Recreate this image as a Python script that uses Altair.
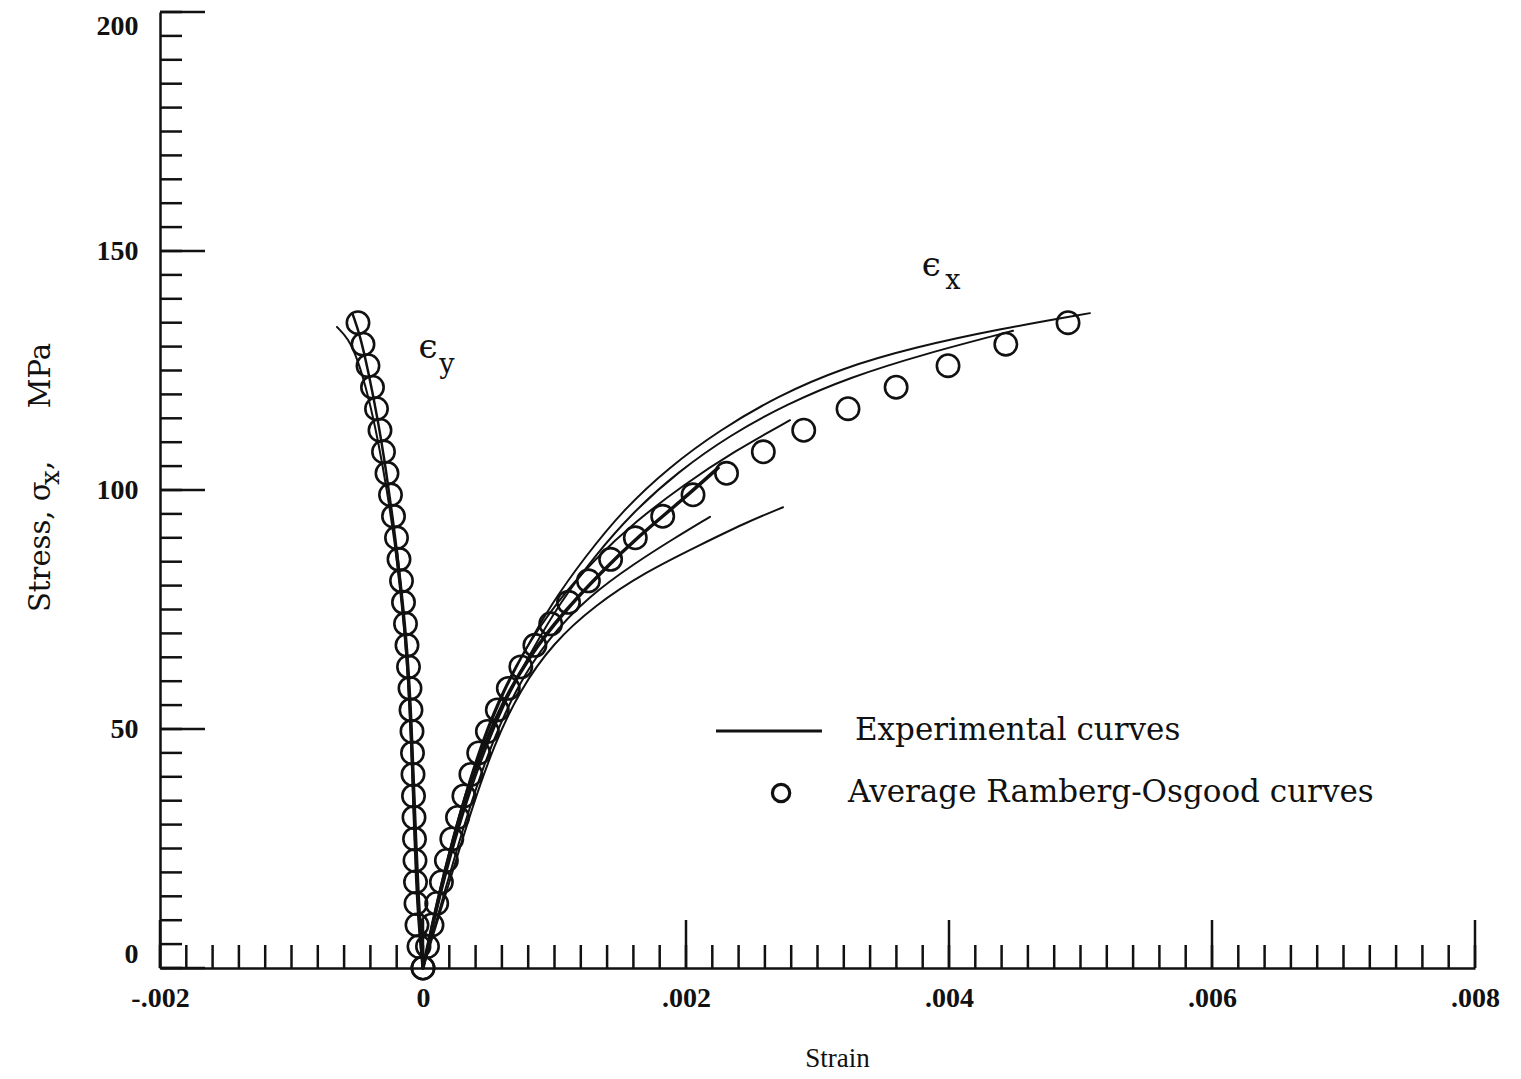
import altair as alt
import pandas as pd

# ---------------- data (strain, stress MPa) ----------------
# Average Ramberg-Osgood curves (circles)
RO_STRESS = [0, 4.5, 9, 13.5, 18, 22.5, 27, 31.5, 36, 40.5, 45, 49.5, 54, 58.5, 63, 67.5,
             72, 76.5, 81, 85.5, 90, 94.5, 99, 103.5, 108, 112.5, 117, 121.5, 126, 130.5, 135]
RO_EX = [0, 0.0000342, 0.0000684, 0.0001042, 0.0001399, 0.000178, 0.000219, 0.0002624,
         0.000311, 0.0003643, 0.0004236, 0.0004898, 0.000565, 0.0006487, 0.0007438, 0.000851,
         0.0009711, 0.0011065, 0.0012579, 0.0014267, 0.0016145, 0.0018229, 0.0020534,
         0.0023081, 0.002588, 0.0028952, 0.0032321, 0.0035979, 0.0039926, 0.0044322, 0.0049052]
RO_EY = [0, -0.0000304, -0.0000456, -0.0000532, -0.000057, -0.0000608, -0.0000646, -0.0000684,
         -0.0000722, -0.000076, -0.0000799, -0.0000837, -0.0000913, -0.0000989, -0.0001103,
         -0.0001217, -0.0001331, -0.0001483, -0.0001635, -0.0001825, -0.0002015, -0.0002243,
         -0.0002472, -0.0002738, -0.0003004, -0.000327, -0.0003536, -0.0003841, -0.0004183,
         -0.0004563, -0.0004943]

# Experimental curves, epsilon_x
EX1_STRAIN = [0, 0.0001065, 0.0002205, 0.0003422, 0.0004715, 0.0006084, 0.0007757, 0.000981,
              0.001232, 0.001521, 0.001863, 0.002259, 0.0027, 0.003186, 0.003742, 0.004388, 0.005072]
EX1_STRESS = [0, 14.2, 26.8, 38.3, 48.3, 57.5, 66.5, 76.4, 86.0, 95.8, 104.6, 112.6, 119.7,
              125.5, 129.9, 133.7, 137.0]
EX2_STRAIN = [0, 0.0001217, 0.0002434, 0.0003726, 0.0005095, 0.000654, 0.0008289, 0.001042,
              0.0013, 0.001597, 0.001939, 0.002335, 0.002768, 0.003247, 0.003818, 0.004487]
EX2_STRESS = [0, 14.2, 26.8, 38.3, 48.3, 57.5, 66.5, 76.4, 86.0, 95.4, 103.8, 111.5, 118.0,
              123.6, 128.5, 133.3]
EX3_STRAIN = [0, 0.0001293, 0.0002586, 0.0004031, 0.0005704, 0.0007681, 0.0010115, 0.0013005,
              0.0016199, 0.0019773, 0.0023728, 0.002791]
EX3_STRESS = [0, 16.3, 30.5, 43.9, 56.1, 66.5, 76.4, 85.4, 93.5, 101.0, 108.2, 114.6]
EX4_STRAIN = [0, 0.0001293, 0.0002662, 0.0004183, 0.0006008, 0.0008137, 0.0010647, 0.0013461,
              0.0016503, 0.0019545, 0.0022435]
EX4_STRESS = [0, 16.3, 30.5, 43.5, 55.4, 65.5, 74.3, 82.6, 90.6, 97.5, 104.6]
EX5_STRAIN = [0, 0.0001673, 0.0003346, 0.0005019, 0.0006997, 0.0009506, 0.00127, 0.0016123,
              0.0019165, 0.0021826]
EX5_STRESS = [0, 16.3, 32.0, 45.6, 58.2, 69.0, 78.0, 84.7, 90.0, 94.4]
EX6_STRAIN = [0, 0.0002053, 0.0003726, 0.00054, 0.0007377, 0.0009887, 0.001308, 0.0016883,
              0.0021066, 0.0024488, 0.0027378]
EX6_STRESS = [0, 18.4, 33.5, 46.7, 58.2, 68.0, 75.9, 82.8, 88.5, 93.1, 96.4]

# Experimental curves, epsilon_y
EY1_STRAIN = [0, -0.0000304, -0.0000532, -0.0000684, -0.0000837, -0.0000989, -0.0001217,
              -0.0001521, -0.0001901, -0.0002282, -0.0002814, -0.0003422, -0.0004183,
              -0.0004791, -0.0005324]
EY1_STRESS = [0, 7.9, 18.4, 31.0, 43.5, 54.0, 64.4, 74.9, 85.4, 93.7, 104.2, 114.6, 125.1,
              132.4, 136.6]
EY2_STRAIN = [0, -0.000038, -0.0000608, -0.0000837, -0.0001141, -0.0001597, -0.0002129,
              -0.0002738, -0.0003422, -0.0004183, -0.0004943, -0.0005704, -0.000654]
EY2_STRESS = [0, 14.2, 31.0, 47.7, 64.4, 77.0, 88.5, 100.0, 110.5, 119.9, 127.2, 131.8, 134.1]
EY3_STRAIN = [0, -0.000038, -0.0000684, -0.0000913, -0.0001217, -0.0001673, -0.0002053]
EY3_STRESS = [0, 14.2, 35.1, 51.9, 66.5, 79.1, 87.9]

X_LABEL_VALUES = [-0.002, 0, 0.002, 0.004, 0.006, 0.008]
Y_LABEL_VALUES = [0, 50, 100, 150, 200]
X_MINOR_TICKS = [round(-0.002 + 0.0002 * i, 4) for i in range(51)]
Y_MINOR_TICKS = [5 * i for i in range(41)]

LEGEND_LABELS = ["Experimental curves", "Average Ramberg-Osgood curves"]
Y_TITLE_PARTS = ["Stress, σ", "x", ",", "MPa"]

# ---------------- layout ----------------
W, H = 1315, 956
SERIF = "DejaVu Serif"
NUM_FONT = "Liberation Serif"
INK = "#111111"

xs = alt.Scale(domain=[-0.002, 0.008], nice=False, zero=False)
ys = alt.Scale(domain=[0, 200], nice=False, zero=False)

rows = []
exp_curves = [
    ("ex1", EX1_STRAIN, EX1_STRESS, 2.0), ("ex2", EX2_STRAIN, EX2_STRESS, 2.0),
    ("ex3", EX3_STRAIN, EX3_STRESS, 2.0), ("ex4", EX4_STRAIN, EX4_STRESS, 3.5),
    ("ex5", EX5_STRAIN, EX5_STRESS, 2.0), ("ex6", EX6_STRAIN, EX6_STRESS, 2.0),
    ("ey1", EY1_STRAIN, EY1_STRESS, 2.5), ("ey2", EY2_STRAIN, EY2_STRESS, 2.0),
    ("ey3", EY3_STRAIN, EY3_STRESS, 3.5),
]
for name, sx, sy, w in exp_curves:
    for i, (a, b) in enumerate(zip(sx, sy)):
        rows.append({"curve": name, "i": i, "strain": a, "stress": b, "w": w})
lines_df = pd.DataFrame(rows)

ro_df = pd.DataFrame({
    "strain": RO_EX + RO_EY,
    "stress": RO_STRESS + RO_STRESS,
})

x_enc = alt.X("strain:Q", scale=xs, axis=alt.Axis(
    values=X_LABEL_VALUES, ticks=False, grid=False, domainColor=INK, domainWidth=2.5,
    labelFont=NUM_FONT, labelFontSize=28, labelFontWeight="bold", labelColor=INK,
    labelPadding=16, labelFlush=False,
    labelExpr="datum.value == 0 ? '0' : (datum.value < 0 ? '-' : '') + '.00' + format(round(abs(datum.value) * 1000), 'd')",
    title="Strain", titleFont=NUM_FONT, titleFontSize=27, titleFontWeight="normal", titleColor=INK,
    titleX=677, titleY=90, titleAnchor="middle", titleBaseline="middle"))
y_enc = alt.Y("stress:Q", scale=ys, axis=alt.Axis(
    values=Y_LABEL_VALUES, ticks=False, grid=False, domainColor=INK, domainWidth=2.5,
    labelFont=NUM_FONT, labelFontSize=28, labelFontWeight="bold", labelColor=INK,
    labelPadding=22, labelFlush=True, title=None))

base_lines = alt.Chart(lines_df).mark_line(color=INK, strokeCap="round", strokeJoin="round",
                                           interpolate="basis").encode(
    x=x_enc, y=y_enc, detail="curve:N", order="i:Q",
    strokeWidth=alt.StrokeWidth("w:Q", scale=None, legend=None))

circles = alt.Chart(ro_df).mark_point(shape="circle", filled=False, size=500, strokeWidth=2.6,
                                      color=INK, opacity=1).encode(
    x=alt.X("strain:Q", scale=xs), y=alt.Y("stress:Q", scale=ys))

# inward ticks
xt_df = pd.DataFrame({"v": X_MINOR_TICKS})
xmaj_df = pd.DataFrame({"v": X_LABEL_VALUES})
yt_df = pd.DataFrame({"v": Y_MINOR_TICKS})
ymaj_df = pd.DataFrame({"v": Y_LABEL_VALUES})

x_minor = alt.Chart(xt_df).mark_rule(color=INK, strokeWidth=2.5).encode(
    x=alt.X("v:Q", scale=xs), y=alt.value(H), y2=alt.value(H - 23))
x_major = alt.Chart(xmaj_df).mark_rule(color=INK, strokeWidth=2.5).encode(
    x=alt.X("v:Q", scale=xs), y=alt.value(H), y2=alt.value(H - 48))
y_minor = alt.Chart(yt_df).mark_rule(color=INK, strokeWidth=2.5).encode(
    y=alt.Y("v:Q", scale=ys), x=alt.value(0), x2=alt.value(22))
y_major = alt.Chart(ymaj_df).mark_rule(color=INK, strokeWidth=2.5).encode(
    y=alt.Y("v:Q", scale=ys), x=alt.value(0), x2=alt.value(45))

# y-axis title with a real subscript, rotated
def ytitle_part(text, px, py, size, align, weight="normal"):
    return alt.Chart(pd.DataFrame({"t": [text]})).mark_text(
        font=SERIF, fontSize=size, fontWeight=weight, color=INK, angle=270, align=align,
        baseline="alphabetic").encode(x=alt.value(px), y=alt.value(py), text="t:N")

yt_a = ytitle_part(Y_TITLE_PARTS[0], -110, 600, 29, "left")
yt_b = ytitle_part(Y_TITLE_PARTS[1], -101, 473, 26, "left")
yt_c = ytitle_part(Y_TITLE_PARTS[2], -110, 458, 29, "left")
yt_d = ytitle_part(Y_TITLE_PARTS[3], -110, 331, 29, "right")

# curve annotations
ann_df = pd.DataFrame({
    "strain": [0.0000380, 0.000182, 0.003865, 0.004030],
    "stress": [129.8, 126.2, 146.8, 143.8],
    "t": ["ϵ", "y", "ϵ", "x"],
    "fs": [34, 27, 34, 27],
})
ann = alt.Chart(ann_df).mark_text(font=SERIF, color=INK, baseline="middle", align="center").encode(
    x=alt.X("strain:Q", scale=xs), y=alt.Y("stress:Q", scale=ys), text="t:N",
    size=alt.Size("fs:Q", scale=None, legend=None))

# legend (drawn in data space)
leg_line = alt.Chart(pd.DataFrame({"a": [0.002228], "b": [0.003034], "s": [49.6]})).mark_rule(
    color=INK, strokeWidth=3).encode(
    x=alt.X("a:Q", scale=xs), x2="b:Q", y=alt.Y("s:Q", scale=ys))
leg_circle = alt.Chart(pd.DataFrame({"a": [0.002723], "s": [36.6]})).mark_point(
    shape="circle", filled=False, size=300, strokeWidth=3.2, color=INK, opacity=1).encode(
    x=alt.X("a:Q", scale=xs), y=alt.Y("s:Q", scale=ys))
leg_text = alt.Chart(pd.DataFrame({"a": [0.003285, 0.003232], "s": [49.6, 36.6],
                                   "t": LEGEND_LABELS})).mark_text(
    font=SERIF, fontSize=31, color=INK, align="left", baseline="middle").encode(
    x=alt.X("a:Q", scale=xs), y=alt.Y("s:Q", scale=ys), text="t:N")

chart = alt.layer(
    base_lines, circles, x_minor, x_major, y_minor, y_major, ann, leg_line, leg_circle, leg_text,
    yt_a, yt_b, yt_c, yt_d
).properties(
    width=W, height=H,
    background="white",
    autosize=alt.AutoSizeParams(type="none"),
    padding={"left": 152, "top": 4, "right": 38, "bottom": 108},
).configure_view(strokeWidth=0, stroke="transparent")

chart.save("out.html", embed_options={"renderer": "svg", "actions": False})
